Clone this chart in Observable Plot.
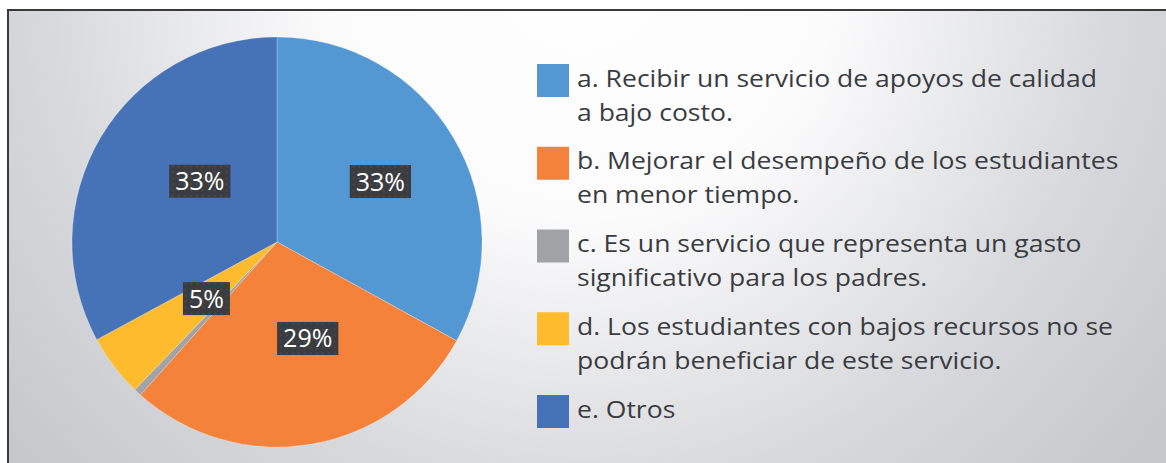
<!DOCTYPE html>
<html><head><meta charset="utf-8">
<script src="https://cdn.jsdelivr.net/npm/d3@7"></script>
<script src="https://cdn.jsdelivr.net/npm/@observablehq/plot@0.6"></script>
<style>
html,body{margin:0;padding:0;background:#fff;}
#chart{width:1166px;height:463px;overflow:hidden;}
</style></head><body><div id="chart"></div>
<script>
// ---- data ----
const categories = ["a", "b", "c", "d", "e"];
const shares = [33.0, 28.6, 0.6, 4.9, 32.9];
const sliceLabels = ["33%", "29%", "", "5%", "33%"];
const legendLines = [
  ["a. Recibir un servicio de apoyos de calidad", "a bajo costo."],
  ["b. Mejorar el desempeño de los estudiantes", "en menor tiempo."],
  ["c. Es un servicio que representa un gasto", "significativo para los padres."],
  ["d. Los estudiantes con bajos recursos no se", "podrán beneficiar de este servicio."],
  ["e. Otros"]
];
const colors = ["#5397d3", "#f5823b", "#a1a3a6", "#fdbb2d", "#4672b8"];

const data = categories.map((c, i) => ({cat: c, share: shares[i], label: sliceLabels[i], lines: legendLines[i]}));
const legendRows = legendLines.flatMap((lines, i) => lines.map((text, j) => ({entry: i, line: j, text})));

// ---- layout ----
const W = 1166, H = 463;
const PIE = {cx: 277, cy: 242, r: 205, labelR: 105, labelDx: 13, labelDy: -7};
const LEG = {swX: 537, swW: 32, swH: 33, textX: 577, top: 64, step: 82.75, baseOffset: 22.5, lineStep: 34, firstLineWidth: 520};
const legendFont = "'Open Sans', sans-serif";

function background(index, scales, values, dims, context) {
  const g = d3.create("svg:g");
  const defs = g.append("defs");
  const rg = defs.append("radialGradient").attr("id", "bg").attr("gradientUnits", "userSpaceOnUse")
    .attr("cx", 580).attr("cy", -40).attr("r", 740);
  [[0, "#ffffff"], [0.35, "#fbfbfc"], [0.72, "#d8d9dc"], [1, "#c6c8cb"]].forEach(([o, c]) =>
    rg.append("stop").attr("offset", o).attr("stop-color", c));
  const pat = defs.append("pattern").attr("id", "dots").attr("patternUnits", "userSpaceOnUse")
    .attr("width", 6).attr("height", 6);
  pat.append("rect").attr("width", 6).attr("height", 6).attr("fill", "#3a3c3f");
  pat.append("circle").attr("cx", 3).attr("cy", 3).attr("r", 0.9).attr("fill", "#4b4e52");
  g.append("rect").attr("x", 8).attr("y", 10).attr("width", W + 20).attr("height", H + 20)
    .attr("fill", "url(#bg)").attr("stroke", "#3a3a3a").attr("stroke-width", 2);
  return g.node();
}

function pie(index, scales, values, dims, context) {
  const g = d3.create("svg:g").attr("transform", `translate(${PIE.cx},${PIE.cy})`);
  const arcs = d3.pie().sort(null).value(d => d.share)(data);
  const arc = d3.arc().innerRadius(0).outerRadius(PIE.r);
  g.selectAll("path").data(arcs).join("path")
    .attr("d", arc)
    .attr("fill", d => scales.color(d.data.cat))
    .attr("stroke", "rgba(255,255,255,0.35)").attr("stroke-width", 0.7);
  const labelArc = d3.arc().innerRadius(PIE.labelR).outerRadius(PIE.labelR);
  const lab = g.selectAll("g.lab").data(arcs.filter(d => d.data.label)).join("g")
    .attr("class", "lab")
    .attr("transform", d => {
      const [x, y] = labelArc.centroid(d);
      return `translate(${x + PIE.labelDx},${y + PIE.labelDy})`;
    });
  lab.append("rect").attr("fill", "url(#dots)");
  lab.append("text").text(d => d.data.label)
    .attr("text-anchor", "middle").attr("dy", "0.36em")
    .attr("fill", "#ffffff").attr("font-size", 25)
    .attr("font-family", "'Open Sans', sans-serif");
  return g.node();
}

const chart = Plot.plot({
  width: W, height: H,
  margin: 0,
  x: {type: "identity", axis: null},
  y: {type: "identity", axis: null},
  color: {domain: categories, range: colors},
  marks: [
    background,
    pie,
    Plot.rect(data, {
      x1: () => LEG.swX, x2: () => LEG.swX + LEG.swW,
      y1: (d, i) => LEG.top + i * LEG.step, y2: (d, i) => LEG.top + i * LEG.step + LEG.swH,
      fill: "cat"
    }),
    Plot.text(legendRows, {
      x: () => LEG.textX,
      y: d => LEG.top + d.entry * LEG.step + LEG.baseOffset + d.line * LEG.lineStep,
      text: "text",
      textAnchor: "start", lineAnchor: "bottom",
      fontSize: 23, fontFamily: legendFont, fill: "#393c41",
      className: "legtext"
    })
  ]
});
chart.style.fontFamily = legendFont;
document.getElementById("chart").appendChild(chart);

// size label boxes to text
d3.select(chart).selectAll("g.lab").each(function () {
  const t = d3.select(this).select("text").node().getBBox();
  d3.select(this).select("rect")
    .attr("x", t.x - 6).attr("y", -16.5).attr("width", t.width + 12).attr("height", 33);
});

// fit legend text width to the original's typeface proportions
const legG = chart.querySelector("g.legtext") || chart.querySelector("g[aria-label='text']");
if (legG) {
  const first = legG.querySelector("text");
  const w = first ? first.getComputedTextLength() : 0;
  if (w > 0) {
    const s = LEG.firstLineWidth / w;
    legG.setAttribute("transform", `translate(${LEG.textX},0) scale(${s},1) translate(${-LEG.textX},0)`);
  }
}
</script></body></html>
